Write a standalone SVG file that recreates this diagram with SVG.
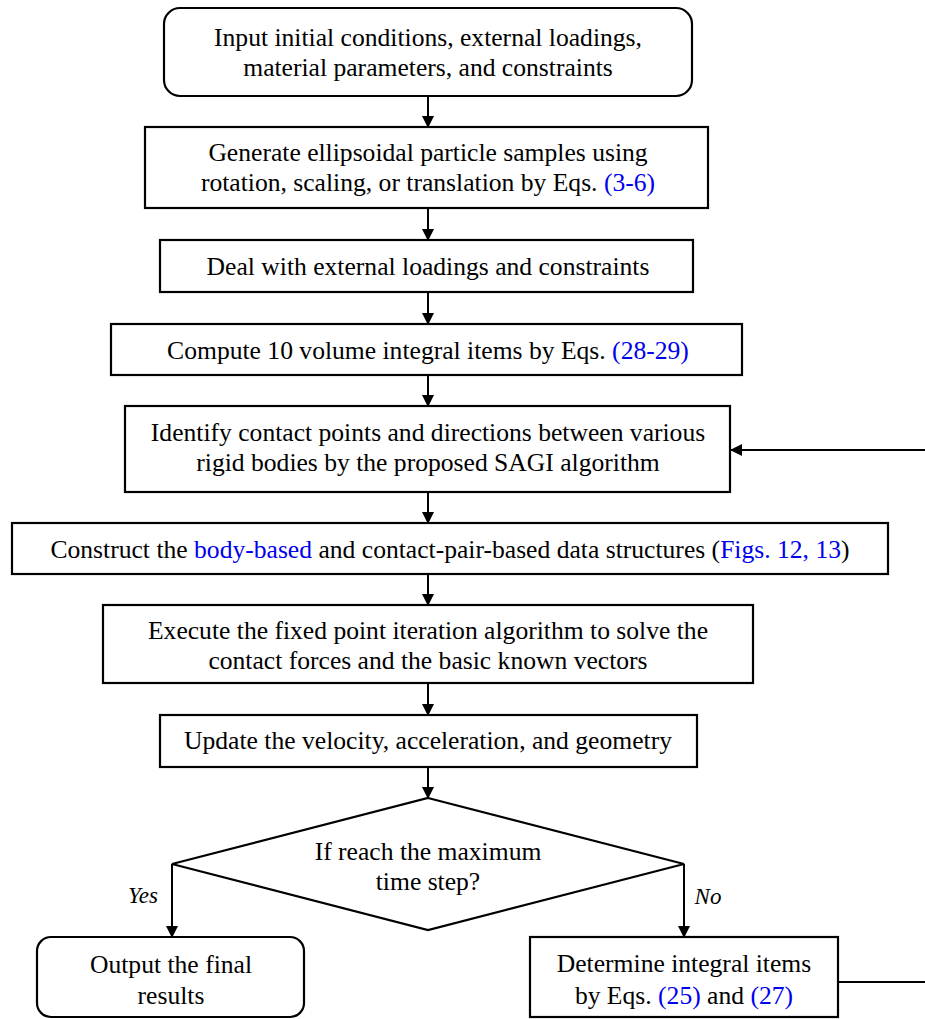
<svg xmlns="http://www.w3.org/2000/svg" width="925" height="1019" viewBox="0 0 925 1019">
<defs>
<marker id="ah" markerWidth="12" markerHeight="12" refX="11" refY="6" orient="auto" markerUnits="userSpaceOnUse">
<path d="M0,0 L12,6 L0,12 Z" fill="#000"/>
</marker>
<style>
.box{fill:#fff;stroke:#000;stroke-width:2.2}
.t{font-family:"Liberation Serif","Times New Roman",serif;font-size:25.6px;fill:#000;text-anchor:middle}
.b{fill:#0000ee}
.lbl{font-family:"Liberation Serif","Times New Roman",serif;font-size:23px;font-style:italic;fill:#000;text-anchor:middle}
.c{fill:none;stroke:#000;stroke-width:2}
</style>
</defs>
<rect width="925" height="1019" fill="#fff"/>
<g id="connectors">
<line class="c" x1="428" y1="96" x2="428" y2="127" marker-end="url(#ah)"/>
<line class="c" x1="428" y1="208" x2="428" y2="240" marker-end="url(#ah)"/>
<line class="c" x1="428" y1="292" x2="428" y2="324" marker-end="url(#ah)"/>
<line class="c" x1="428" y1="375" x2="428" y2="406" marker-end="url(#ah)"/>
<line class="c" x1="428" y1="492" x2="428" y2="523" marker-end="url(#ah)"/>
<line class="c" x1="428" y1="574" x2="428" y2="605" marker-end="url(#ah)"/>
<line class="c" x1="428" y1="683" x2="428" y2="715" marker-end="url(#ah)"/>
<line class="c" x1="428" y1="767" x2="428" y2="798" marker-end="url(#ah)"/>
<polyline class="c" points="172,864 172,937" marker-end="url(#ah)"/>
<polyline class="c" points="684,864 684,937" marker-end="url(#ah)"/>
<polyline class="c" points="838,982 935,982 935,450 731,450" marker-end="url(#ah)"/>
</g>
<g id="n1">
<rect class="box" x="164" y="8" width="528" height="88" rx="16"/>
<text class="t" x="428" y="46">Input initial conditions, external loadings,</text>
<text class="t" x="428" y="76">material parameters, and constraints</text>
</g>
<g id="n2">
<rect class="box" x="145" y="127" width="563" height="81"/>
<text class="t" x="428" y="161">Generate ellipsoidal particle samples using</text>
<text class="t" x="428" y="191">rotation, scaling, or translation by Eqs. <tspan class="b">(3-6)</tspan></text>
</g>
<g id="n3">
<rect class="box" x="160" y="240" width="533" height="52"/>
<text class="t" x="428" y="275">Deal with external loadings and constraints</text>
</g>
<g id="n4">
<rect class="box" x="111" y="324" width="631" height="51"/>
<text class="t" x="428" y="359">Compute 10 volume integral items by Eqs. <tspan class="b">(28-29)</tspan></text>
</g>
<g id="n5">
<rect class="box" x="125" y="406" width="605" height="86"/>
<text class="t" x="428" y="441">Identify contact points and directions between various</text>
<text class="t" x="428" y="471">rigid bodies by the proposed SAGI algorithm</text>
</g>
<g id="n6">
<rect class="box" x="12" y="523" width="876" height="51"/>
<text class="t" x="450" y="558">Construct the <tspan class="b">body-based</tspan> and contact-pair-based data structures (<tspan class="b">Figs. 12, 13</tspan>)</text>
</g>
<g id="n7">
<rect class="box" x="103" y="605" width="650" height="78"/>
<text class="t" x="428" y="639">Execute the fixed point iteration algorithm to solve the</text>
<text class="t" x="428" y="669">contact forces and the basic known vectors</text>
</g>
<g id="n8">
<rect class="box" x="160" y="715" width="537" height="52"/>
<text class="t" x="428" y="749">Update the velocity, acceleration, and geometry</text>
</g>
<g id="n9">
<polygon class="box" points="428,798 684,864 428,930 172,864"/>
<text class="t" x="428" y="860">If reach the maximum</text>
<text class="t" x="428" y="890">time step?</text>
</g>
<text class="lbl" x="143" y="903">Yes</text>
<text class="lbl" x="708" y="904">No</text>
<g id="n10">
<rect class="box" x="37" y="937" width="267" height="80" rx="14"/>
<text class="t" x="171" y="973">Output the final</text>
<text class="t" x="171" y="1004">results</text>
</g>
<g id="n11">
<rect class="box" x="530" y="937" width="308" height="80"/>
<text class="t" x="684" y="972">Determine integral items</text>
<text class="t" x="684" y="1004">by Eqs. <tspan class="b">(25)</tspan> and <tspan class="b">(27)</tspan></text>
</g>
</svg>
